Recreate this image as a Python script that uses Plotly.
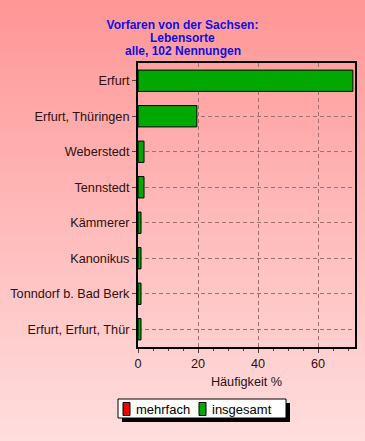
import plotly.graph_objects as go

categories = ["Erfurt", "Erfurt, Thüringen", "Weberstedt", "Tennstedt",
              "Kämmerer", "Kanonikus", "Tonndorf b. Bad Berk", "Erfurt, Erfurt, Thür"]
insgesamt = [71.6, 19.6, 2.0, 2.0, 1.0, 1.0, 1.0, 1.0]
mehrfach = [0, 0, 0, 0, 0, 0, 0, 0]
x_ticks = [0, 20, 40, 60]
series_names = ["mehrfach", "insgesamt"]
series_colors = ["#EE0000", "#00A800"]
title_lines = ["Vorfaren von der Sachsen:", "Lebensorte", "alle, 102 Nennungen"]

W, H = 365, 441
ML, MR, MT, MB = 138, 10, 63, 94
PW, PH = W - ML - MR, H - MT - MB

def px(x):
    return (x - ML) / PW

def py(y):
    return (H - MB - y) / PH

svg = ("data:image/svg+xml;utf8,<svg xmlns='http://www.w3.org/2000/svg' width='365' height='441' preserveAspectRatio='none'>"
       "<defs><linearGradient id='g' x1='0' y1='0' x2='0' y2='1'>"
       "<stop offset='0' stop-color='%23FF9696'/><stop offset='1' stop-color='%23FFDEDE'/>"
       "</linearGradient></defs><rect width='365' height='441' fill='url(%23g)'/></svg>")

fig = go.Figure()
for name, vals, col in zip(series_names, [mehrfach, insgesamt], series_colors):
    fig.add_trace(go.Bar(y=categories, x=vals, name=name, orientation="h",
                         marker=dict(color=col, line=dict(color="black", width=1)),
                         width=0.6, showlegend=False))

font = "Liberation Sans, Arial, sans-serif"
title_font = dict(family=font, size=12, color="#1010E0")

shapes = [
    dict(type="rect", xref="paper", yref="paper", x0=px(122), x1=px(290),
         y0=py(403), y1=py(422), fillcolor="black", line=dict(width=0), layer="below"),
    dict(type="rect", xref="paper", yref="paper", x0=px(118), x1=px(286),
         y0=py(399), y1=py(418), fillcolor="white", line=dict(color="black", width=1),
         layer="below"),
]
annotations = []
legend_sq_x = [123, 199]
legend_tx_x = [134, 210]
for name, col, sx, tx in zip(series_names, series_colors, legend_sq_x, legend_tx_x):
    shapes.append(dict(type="rect", xref="paper", yref="paper", x0=px(sx), x1=px(sx + 7),
                       y0=py(402.5), y1=py(415.5), fillcolor=col,
                       line=dict(color="black", width=1), layer="above"))
    annotations.append(dict(text=name, xref="paper", yref="paper", x=px(tx), y=py(409),
                            xanchor="left", yanchor="middle", showarrow=False,
                            font=dict(family=font, size=13, color="black")))
for line, yc in zip(title_lines[1:], [38, 51]):
    annotations.append(dict(text="<b>" + line + "</b>", xref="paper", yref="paper",
                            x=px(W / 2), y=py(yc), xanchor="center", yanchor="middle",
                            showarrow=False, font=title_font))

fig.update_layout(
    width=W, height=H,
    margin=dict(l=ML, r=MR, t=MT, b=MB, autoexpand=False),
    barmode="overlay",
    paper_bgcolor="#FFC0C0",
    plot_bgcolor="rgba(0,0,0,0)",
    font=dict(family=font, size=12.7, color="#301010"),
    title=dict(text="<b>" + title_lines[0] + "</b>",
               x=0.5, xref="container", xanchor="center", y=1 - 25 / H, yanchor="middle",
               font=title_font),
    xaxis=dict(range=[0, 72.3], tickvals=x_ticks, showgrid=True,
               gridcolor="#A07070", griddash="4px,3px", gridwidth=1,
               showline=True, linecolor="black", linewidth=2, mirror=True,
               ticks="outside", ticklen=4, tickcolor="#504040",
               minor=dict(dtick=5, ticks="outside", ticklen=2, tickcolor="#504040", showgrid=False),
               zeroline=False, fixedrange=True, automargin=False,
               title=dict(text="Häufigkeit %", standoff=7, font=dict(size=12.7))),
    yaxis=dict(categoryorder="array", categoryarray=categories, autorange="reversed",
               showgrid=True, gridcolor="#A07070", griddash="4px,3px", gridwidth=1,
               showline=True, linecolor="black", linewidth=2, mirror=True,
               ticks="outside", ticklen=4, tickcolor="#504040",
               fixedrange=True, automargin=False),
    showlegend=False,
    images=[dict(source=svg, xref="paper", yref="paper", x=px(0), y=py(0),
                 sizex=W / PW, sizey=H / PH, xanchor="left", yanchor="top",
                 sizing="stretch", layer="below")],
    shapes=shapes,
    annotations=annotations,
)

fig.write_html("out.html", config={"displayModeBar": False},
               post_script="document.body.style.margin='0';")
